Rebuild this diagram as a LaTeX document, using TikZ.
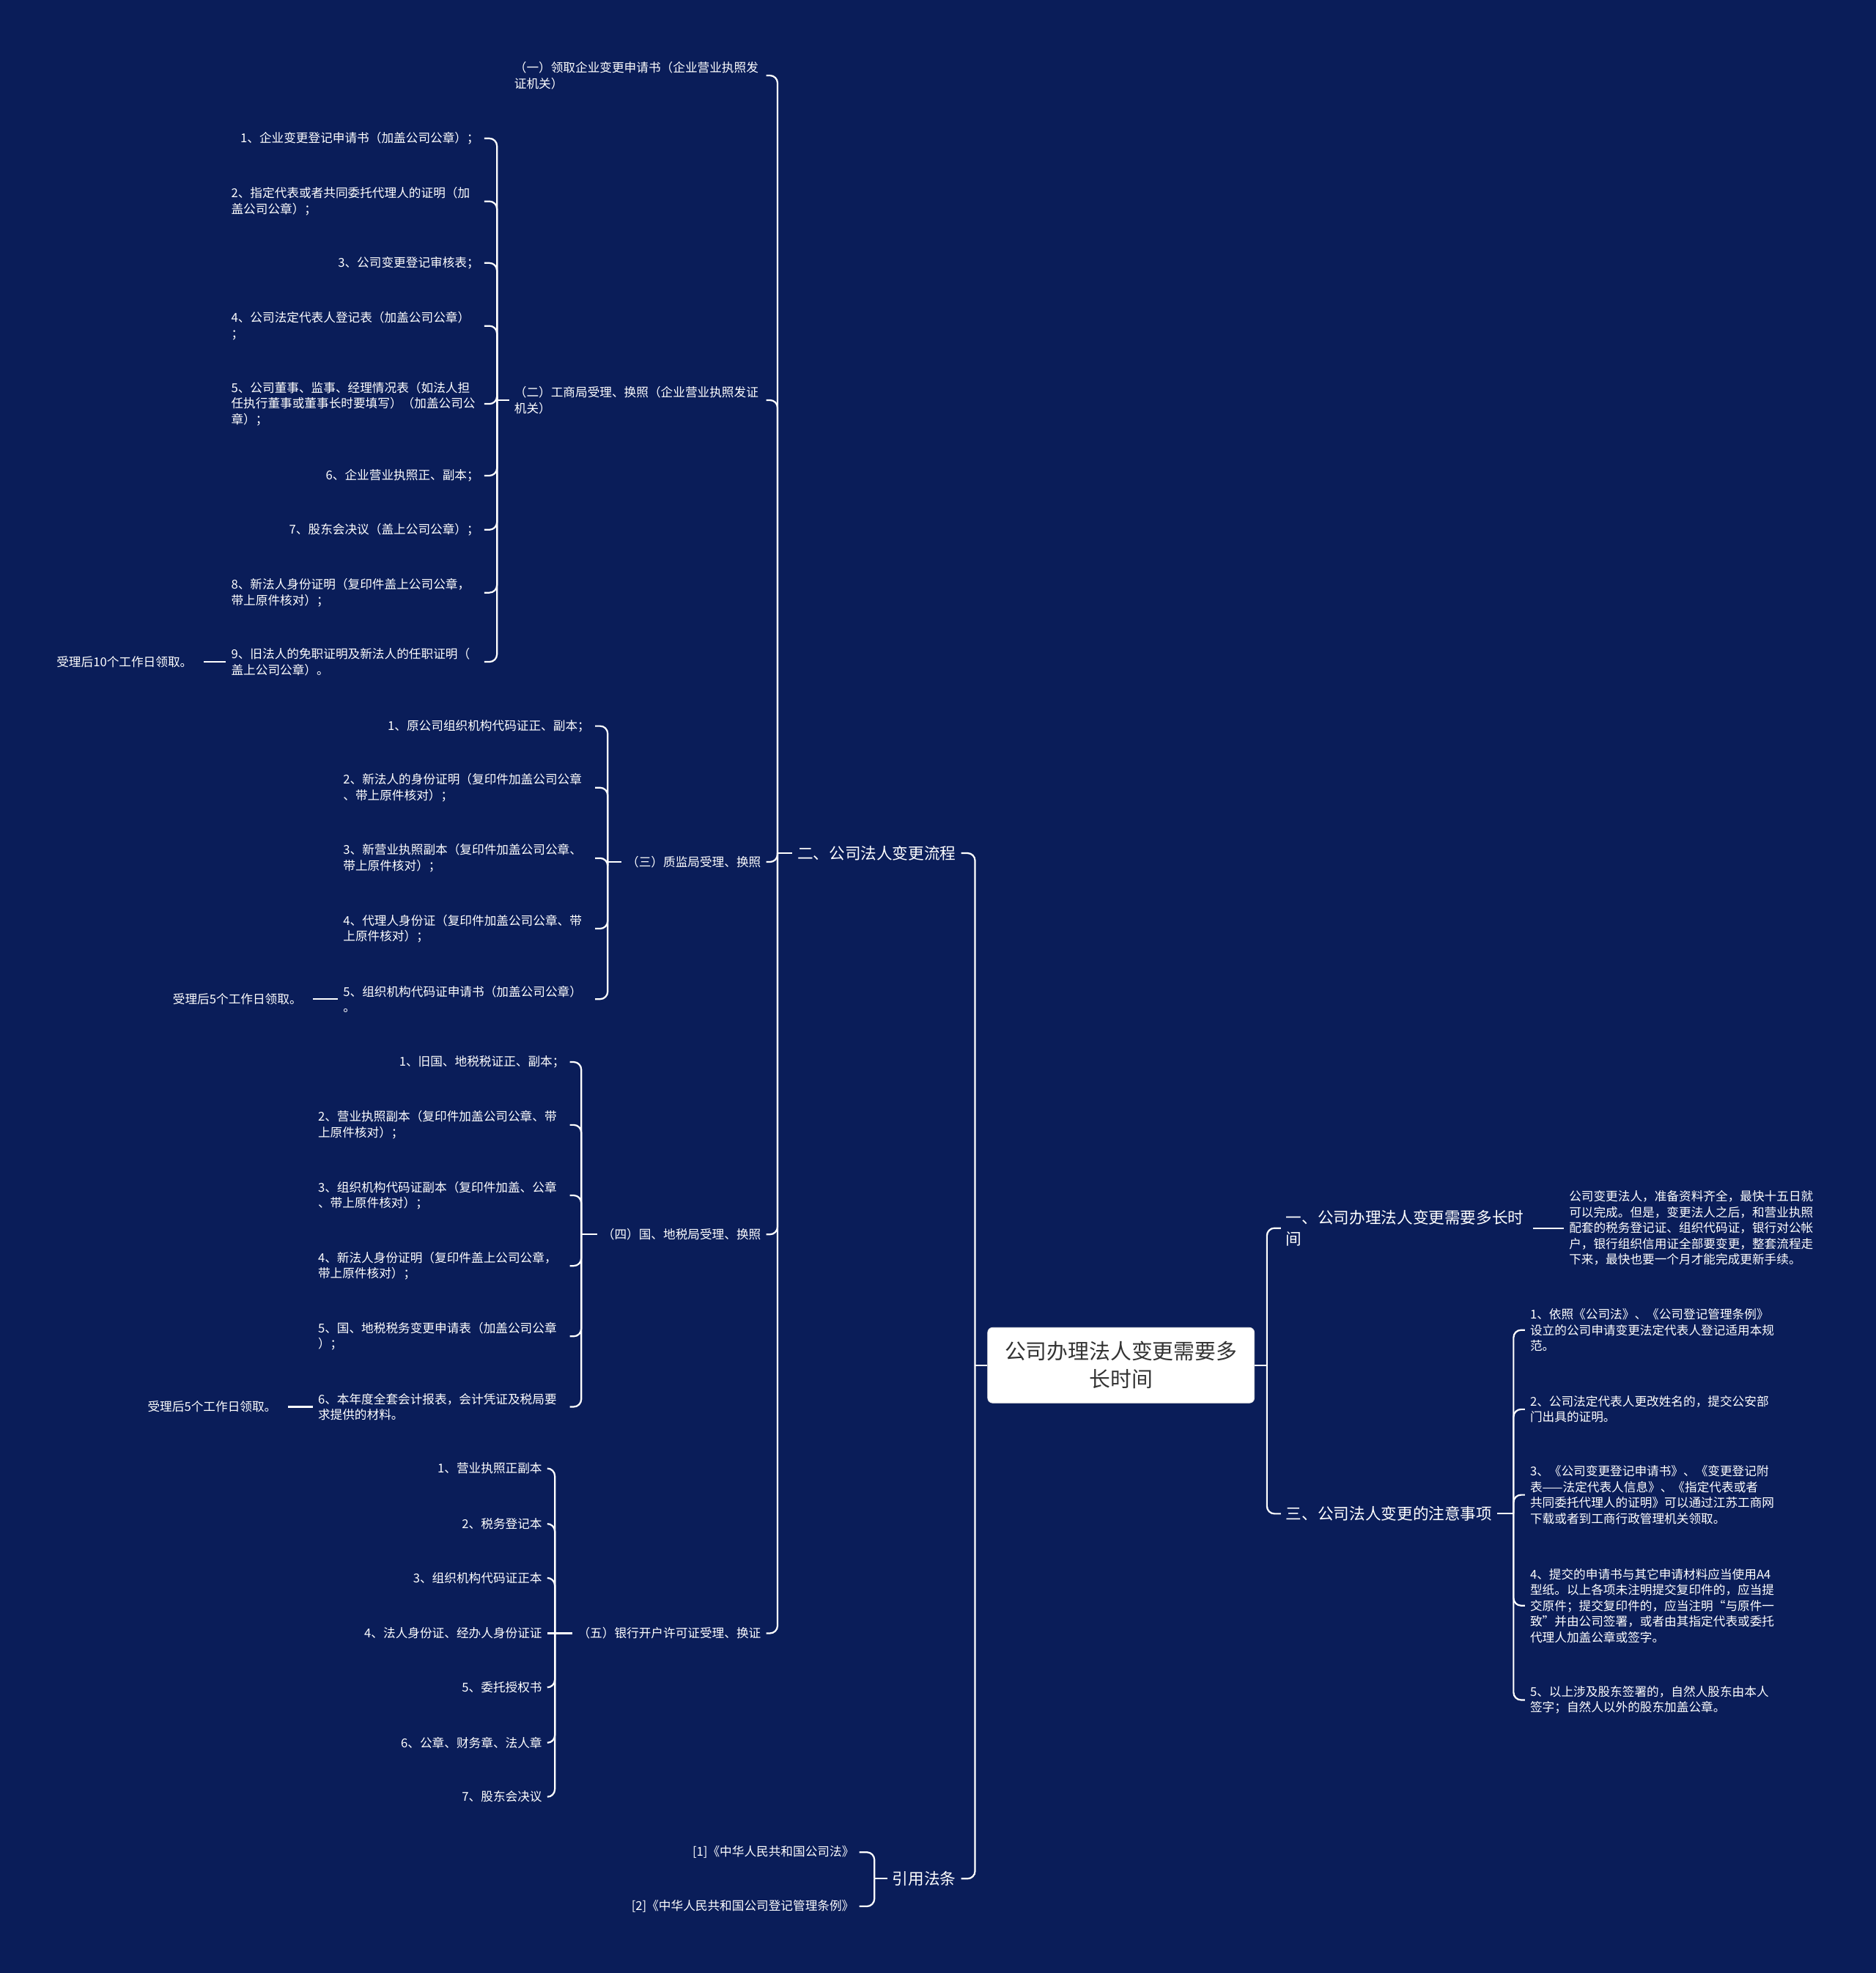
\documentclass[tikz,border=0pt]{standalone}
\usepackage{fontspec}
\setmainfont{Noto Sans CJK SC}
\definecolor{bgnavy}{RGB}{10,29,89}
\definecolor{roottxt}{RGB}{51,51,51}
\begin{document}
\begin{tikzpicture}[x=1pt,y=-1pt,
  smtxt/.style={text=white,font=\fontsize{9.7}{12.5}\selectfont,inner xsep=4pt,inner ysep=2pt},
  smL/.style={smtxt,anchor=east},
  multiL/.style={smtxt,anchor=east,align=left,text width=#1},
  multiR/.style={smtxt,anchor=west,align=left,text width=#1},
  noteL/.style={smtxt,anchor=east,inner xsep=9pt},
  maintxt/.style={text=white,font=\fontsize{12.6}{17}\selectfont,inner xsep=4pt,inner ysep=2pt},
  mainL/.style={maintxt,anchor=east},
  mainR/.style={maintxt,anchor=west},
  conn/.style={draw=white,line width=1.3pt,rounded corners=6pt},
  straight/.style={draw=white,line width=1.3pt}
]
\fill[bgnavy] (0,0) rectangle (1491,1568);
\useasboundingbox (0,0) rectangle (1491,1568);

% spine coordinates
\coordinate (sRL) at (775,0);
\coordinate (sRR) at (1007,0);
\coordinate (sA) at (618,0);
\coordinate (sB) at (395,0);
\coordinate (sC) at (483,0);
\coordinate (sD) at (462,0);
\coordinate (sE) at (441,0);
\coordinate (sF) at (695,0);
\coordinate (sG) at (1203,0);

% root
\node[fill=white,draw=black!12,line width=0.4pt,rounded corners=4pt,minimum width=212pt,minimum height=60pt,
      text=roottxt,font=\fontsize{16.8}{22}\selectfont,align=center,text width=200pt,inner sep=0pt]
  (root) at (891,1085) {公司办理法人变更需要多\\长时间};

% level 1
\node[mainL] (L1a) at (764,678) {二、公司法人变更流程};
\node[mainL] (L1b) at (764,1493) {引用法条};
\node[mainR,align=left,text width=192pt] (R1) at (1018,976) {一、公司办理法人变更需要多长时\\间};
\node[mainR] (R2) at (1018,1203) {三、公司法人变更的注意事项};

% right details
\node[multiR=198pt] (R1c) at (1243,976) {公司变更法人，准备资料齐全，最快十五日就\\可以完成。但是，变更法人之后，和营业执照\\配套的税务登记证、组织代码证，银行对公帐\\户，银行组织信用证全部要变更，整套流程走\\下来，最快也要一个月才能完成更新手续。};
\node[multiR=198pt] (G1) at (1212,1057) {1、依照《公司法》、《公司登记管理条例》\\设立的公司申请变更法定代表人登记适用本规\\范。};
\node[multiR=198pt] (G2) at (1212,1120) {2、公司法定代表人更改姓名的，提交公安部\\门出具的证明。};
\node[multiR=198pt] (G3) at (1212,1188) {3、《公司变更登记申请书》、《变更登记附\\表——法定代表人信息》、《指定代表或者\\共同委托代理人的证明》可以通过江苏工商网\\下载或者到工商行政管理机关领取。};
\node[multiR=198pt] (G4) at (1212,1276) {4、提交的申请书与其它申请材料应当使用A4\\型纸。以上各项未注明提交复印件的，应当提\\交原件；提交复印件的，应当注明“与原件一\\致”并由公司签署，或者由其指定代表或委托\\代理人加盖公章或签字。};
\node[multiR=198pt] (G5) at (1212,1351) {5、以上涉及股东签署的，自然人股东由本人\\签字；自然人以外的股东加盖公章。};

% group A
\node[multiL=196pt] (A1) at (609,60) {（一）领取企业变更申请书（企业营业执照发\\证机关）};
\node[multiL=196pt] (A2) at (609,318) {（二）工商局受理、换照（企业营业执照发证\\机关）};
\node[smL] (A3) at (609,685) {（三）质监局受理、换照};
\node[smL] (A4) at (609,981) {（四）国、地税局受理、换照};
\node[smL] (A5) at (609,1298) {（五）银行开户许可证受理、换证};

% group B
\node[smL] (B1) at (385,110) {1、企业变更登记申请书（加盖公司公章）；};
\node[multiL=197pt] (B2) at (385,160) {2、指定代表或者共同委托代理人的证明（加\\盖公司公章）；};
\node[smL] (B3) at (385,209) {3、公司变更登记审核表；};
\node[multiL=197pt] (B4) at (385,259) {4、公司法定代表人登记表（加盖公司公章）\\；};
\node[multiL=197pt] (B5) at (385,321) {5、公司董事、监事、经理情况表（如法人担\\任执行董事或董事长时要填写）（加盖公司公\\章）；};
\node[smL] (B6) at (385,378) {6、企业营业执照正、副本；};
\node[smL] (B7) at (385,421) {7、股东会决议（盖上公司公章）；};
\node[multiL=197pt] (B8) at (385,471) {8、新法人身份证明（复印件盖上公司公章，\\带上原件核对）；};
\node[multiL=197pt] (B9) at (385,526) {9、旧法人的免职证明及新法人的任职证明（\\盖上公司公章）。};
\node[noteL] (B9a) at (162,526) {受理后10个工作日领取。};

% group C
\node[smL] (C1) at (473,577) {1、原公司组织机构代码证正、副本；};
\node[multiL=196pt] (C2) at (473,626) {2、新法人的身份证明（复印件加盖公司公章\\、带上原件核对）；};
\node[multiL=196pt] (C3) at (473,682) {3、新营业执照副本（复印件加盖公司公章、\\带上原件核对）；};
\node[multiL=196pt] (C4) at (473,738) {4、代理人身份证（复印件加盖公司公章、带\\上原件核对）；};
\node[multiL=196pt] (C5) at (473,794) {5、组织机构代码证申请书（加盖公司公章）\\。};
\node[noteL] (C5a) at (249,794) {受理后5个工作日领取。};

% group D
\node[smL] (D1) at (453,844) {1、旧国、地税税证正、副本；};
\node[multiL=196pt] (D2) at (453,894) {2、营业执照副本（复印件加盖公司公章、带\\上原件核对）；};
\node[multiL=196pt] (D3) at (453,950) {3、组织机构代码证副本（复印件加盖、公章\\、带上原件核对）；};
\node[multiL=196pt] (D4) at (453,1006) {4、新法人身份证明（复印件盖上公司公章，\\带上原件核对）；};
\node[multiL=196pt] (D5) at (453,1062) {5、国、地税税务变更申请表（加盖公司公章\\）；};
\node[multiL=196pt] (D6) at (453,1118) {6、本年度全套会计报表，会计凭证及税局要\\求提供的材料。};
\node[noteL] (D6a) at (229,1118) {受理后5个工作日领取。};

% group E
\node[smL] (E1) at (435,1167) {1、营业执照正副本};
\node[smL] (E2) at (435,1211) {2、税务登记本};
\node[smL] (E3) at (435,1254) {3、组织机构代码证正本};
\node[smL] (E4) at (435,1298) {4、法人身份证、经办人身份证证};
\node[smL] (E5) at (435,1341) {5、委托授权书};
\node[smL] (E6) at (435,1385) {6、公章、财务章、法人章};
\node[smL] (E7) at (435,1428) {7、股东会决议};

% group F
\node[smL] (F1) at (683,1472) {[1]《中华人民共和国公司法》};
\node[smL] (F2) at (683,1515) {[2]《中华人民共和国公司登记管理条例》};

% parent stubs (straight T junctions)
\draw[straight] (root.west) -- (root.west -| sRL);
\draw[straight] (root.east) -- (root.east -| sRR);
\draw[straight] (R2.east) -- (R2.east -| sG);
\draw[straight] (L1a.west) -- (L1a.west -| sA);
\draw[straight] (A2.west) -- (A2.west -| sB);
\draw[straight] (A3.west) -- (A3.west -| sC);
\draw[straight] (A4.west) -- (A4.west -| sD);
\draw[straight] (A5.west) -- (A5.west -| sE);
\draw[straight] (L1b.west) -- (L1b.west -| sF);

% child branches along spines
\foreach \c in {L1a,L1b} \draw[conn] (root.west -| sRL) |- (\c.east);
\foreach \c in {R1,R2} \draw[conn] (root.east -| sRR) |- (\c.west);
\draw[straight] (R1.east) -- (R1c.west);
\foreach \c in {G1,G2,G3,G4,G5} \draw[conn] (R2.east -| sG) |- (\c.west);
\foreach \c in {A1,A2,A3,A4,A5} \draw[conn] (L1a.west -| sA) |- (\c.east);
\foreach \c in {B1,B2,B3,B4,B5,B6,B7,B8,B9} \draw[conn] (A2.west -| sB) |- (\c.east);
\draw[straight] (B9.west) -- (B9a.east);
\foreach \c in {C1,C2,C3,C4,C5} \draw[conn] (A3.west -| sC) |- (\c.east);
\draw[straight] (C5.west) -- (C5a.east);
\foreach \c in {D1,D2,D3,D4,D5,D6} \draw[conn] (A4.west -| sD) |- (\c.east);
\draw[straight] (D6.west) -- (D6a.east);
\foreach \c in {E1,E2,E3,E5,E6,E7} \draw[conn] (A5.west -| sE) |- (\c.east);
\draw[straight] (A5.west -| sE) -- (E4.east);
\foreach \c in {F1,F2} \draw[conn] (L1b.west -| sF) |- (\c.east);
\end{tikzpicture}
\end{document}
